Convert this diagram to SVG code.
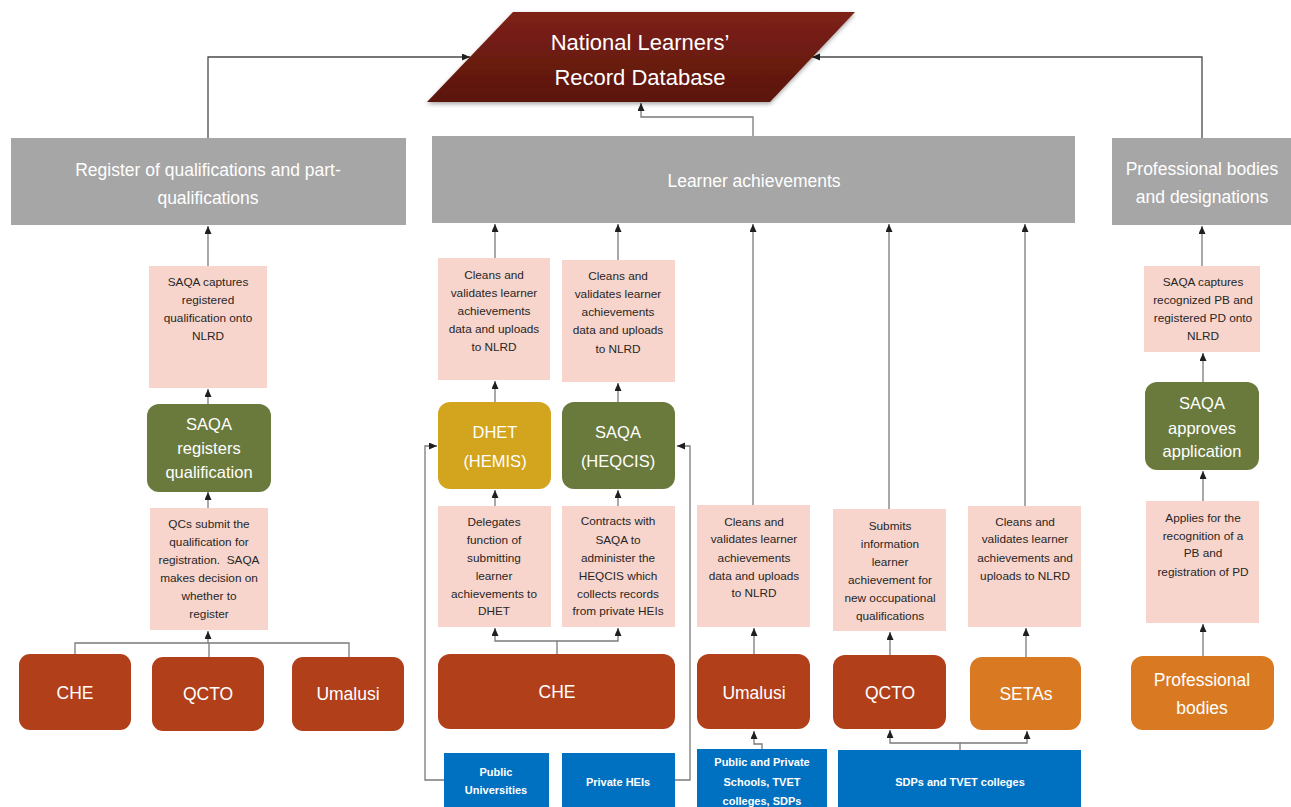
<svg xmlns="http://www.w3.org/2000/svg" width="1291" height="807" viewBox="0 0 1291 807">
<defs>
<marker id="arr" markerUnits="userSpaceOnUse" markerWidth="8" markerHeight="8" refX="8" refY="3.5" orient="auto">
<path d="M0,0 L8,3.5 L0,7 z" fill="#1f1f1f"/>
</marker>
<linearGradient id="dbg" x1="0" y1="0" x2="0" y2="1">
<stop offset="0" stop-color="#7e2115"/>
<stop offset="1" stop-color="#5a160e"/>
</linearGradient>
<filter id="sh" x="-10%" y="-10%" width="120%" height="140%">
<feDropShadow dx="0" dy="2" stdDeviation="2" flood-color="#000" flood-opacity="0.35"/>
</filter>
</defs>
<style>
.grey{fill:#a6a6a6}
.pink{fill:#f8d5cc}
.green{fill:#6a7a3c}
.red{fill:#b13f1a}
.gold{fill:#d3a41d}
.orange{fill:#d97a22}
.blue{fill:#0070c0}
text{font-family:"Liberation Sans",Arial,sans-serif;text-anchor:middle}
.gt{fill:#ffffff;font-size:17.5px}
.pt{fill:#262626;font-size:11.8px}
.bt{fill:#ffffff;font-size:16.5px}
.nt{fill:#ffffff;font-size:17.5px}
.blt{fill:#ffffff;font-size:11px;font-weight:bold}
.dbt{fill:#ffffff;font-size:22px}
.pre{white-space:pre}
.conn path{fill:none;stroke:#7a7a7a;stroke-width:1.3}
.conn path.dk{stroke:#4a4a4a}
.conn path.a{marker-end:url(#arr)}
</style>
<rect width="1291" height="807" fill="#ffffff"/>

<g class="conn" id="connectors">
<path class="a dk" d="M208,138 V57 H470"/>
<path class="a dk" d="M1202,138 V57 H812"/>
<path class="a" d="M753,136 V117 H641 V103"/>
<path class="a" d="M208,266 V226"/>
<path class="a" d="M495,258 V224"/>
<path class="a" d="M618,260 V224"/>
<path class="a" d="M753,505 V224"/>
<path class="a" d="M889,509 V224"/>
<path class="a" d="M1025,506 V224"/>
<path class="a" d="M1202,266 V226"/>
<path class="a" d="M208,404 V389"/>
<path class="a" d="M208,508 V492"/>
<path d="M75,654 V643 H349 V657"/>
<path d="M209,657 V643"/>
<path class="a" d="M208,643 V631"/>
<path class="a" d="M495,402 V381"/>
<path class="a" d="M618,402 V383"/>
<path class="a" d="M495,506 V490"/>
<path class="a" d="M618,506 V490"/>
<path class="a" d="M557,654 V641 H495 V628"/>
<path class="a" d="M557,641 H618 V628"/>
<path class="a" d="M444,780 H425 V446 H437"/>
<path class="a" d="M675,780 H690 V446 H677"/>
<path class="a" d="M754,654 V628"/>
<path class="a" d="M762,749 V744 H754 V731"/>
<path class="a" d="M890,655 V632"/>
<path class="a" d="M1026,657 V628"/>
<path class="a" d="M960,750 V743 H890 V730"/>
<path class="a" d="M960,743 H1027 V731"/>
<path class="a" d="M1203,382 V353"/>
<path class="a" d="M1203,501 V471"/>
<path class="a" d="M1203,656 V624"/>
</g>

<g id="nlrd">
<polygon points="513,12 855,12 770,102 427,102" fill="url(#dbg)" filter="url(#sh)"/>
<text class="dbt" x="640" y="50">National Learners’</text>
<text class="dbt" x="640" y="85">Record Database</text>
</g>

<g id="register">
<rect class="grey" x="11" y="138" width="395" height="87"/>
<text class="gt" x="208" y="176">Register of qualifications and part-</text>
<text class="gt" x="208" y="204">qualifications</text>
</g>
<g id="learner-achievements">
<rect class="grey" x="432" y="136" width="643" height="87"/>
<text class="gt" x="754" y="187">Learner achievements</text>
</g>
<g id="professional-designations">
<rect class="grey" x="1112" y="138" width="179" height="87"/>
<text class="gt" x="1202" y="175">Professional bodies</text>
<text class="gt" x="1202" y="203">and designations</text>
</g>

<g id="saqa-captures-qual">
<rect class="pink" x="149" y="266" width="118" height="122"/>
<text class="pt" x="208" y="286">SAQA captures</text>
<text class="pt" x="208" y="304">registered</text>
<text class="pt" x="208" y="322">qualification onto</text>
<text class="pt" x="208" y="340">NLRD</text>
</g>
<g id="saqa-registers">
<rect class="green" x="147" y="404" width="124" height="88" rx="12"/>
<text class="bt" x="209" y="430">SAQA</text>
<text class="bt" x="209" y="454">registers</text>
<text class="bt" x="209" y="478">qualification</text>
</g>
<g id="qcs-submit">
<rect class="pink" x="150" y="508" width="118" height="122"/>
<text class="pt" x="209" y="528">QCs submit the</text>
<text class="pt" x="209" y="546">qualification for</text>
<text class="pt pre" x="209" y="564">registration.  SAQA</text>
<text class="pt" x="209" y="582">makes decision on</text>
<text class="pt" x="209" y="600">whether to</text>
<text class="pt" x="209" y="618">register</text>
</g>
<g id="che-left">
<rect class="red" x="19" y="654" width="112" height="76" rx="11"/>
<text class="nt" x="75" y="699">CHE</text>
</g>
<g id="qcto-left">
<rect class="red" x="152" y="657" width="112" height="74" rx="11"/>
<text class="nt" x="208" y="700">QCTO</text>
</g>
<g id="umalusi-left">
<rect class="red" x="292" y="657" width="112" height="74" rx="11"/>
<text class="nt" x="348" y="700">Umalusi</text>
</g>

<g id="dhet-cleans">
<rect class="pink" x="438" y="258" width="112" height="122"/>
<text class="pt" x="494" y="279">Cleans and</text>
<text class="pt" x="494" y="297">validates learner</text>
<text class="pt" x="494" y="315">achievements</text>
<text class="pt" x="494" y="333">data and uploads</text>
<text class="pt" x="494" y="351">to NLRD</text>
</g>
<g id="saqa-cleans">
<rect class="pink" x="562" y="260" width="113" height="122"/>
<text class="pt" x="618" y="280">Cleans and</text>
<text class="pt" x="618" y="298">validates learner</text>
<text class="pt" x="618" y="316">achievements</text>
<text class="pt" x="618" y="334">data and uploads</text>
<text class="pt" x="618" y="353">to NLRD</text>
</g>
<g id="dhet-hemis">
<rect class="gold" x="438" y="402" width="113" height="87" rx="12"/>
<text class="bt" x="495" y="438">DHET</text>
<text class="bt" x="495" y="467">(HEMIS)</text>
</g>
<g id="saqa-heqcis">
<rect class="green" x="562" y="402" width="113" height="87" rx="12"/>
<text class="bt" x="618" y="438">SAQA</text>
<text class="bt" x="618" y="467">(HEQCIS)</text>
</g>
<g id="delegates">
<rect class="pink" x="438" y="506" width="113" height="121"/>
<text class="pt" x="494" y="526">Delegates</text>
<text class="pt" x="494" y="544">function of</text>
<text class="pt" x="494" y="562">submitting</text>
<text class="pt" x="494" y="580">learner</text>
<text class="pt" x="494" y="598">achievements to</text>
<text class="pt" x="494" y="615">DHET</text>
</g>
<g id="contracts">
<rect class="pink" x="562" y="506" width="113" height="121"/>
<text class="pt" x="618" y="525">Contracts with</text>
<text class="pt" x="618" y="544">SAQA to</text>
<text class="pt" x="618" y="562">administer the</text>
<text class="pt" x="618" y="580">HEQCIS which</text>
<text class="pt" x="618" y="598">collects records</text>
<text class="pt" x="618" y="615">from private HEIs</text>
</g>
<g id="che-mid">
<rect class="red" x="438" y="654" width="237" height="75" rx="12"/>
<text class="nt" x="557" y="698">CHE</text>
</g>
<g id="public-universities">
<rect class="blue" x="444" y="753" width="105" height="60"/>
<text class="blt" x="496" y="776">Public</text>
<text class="blt" x="496" y="794">Universities</text>
</g>
<g id="private-heis">
<rect class="blue" x="562" y="753" width="113" height="60"/>
<text class="blt" x="618" y="786">Private HEIs</text>
</g>

<g id="umalusi-cleans">
<rect class="pink" x="697" y="505" width="113" height="122"/>
<text class="pt" x="754" y="526">Cleans and</text>
<text class="pt" x="754" y="543">validates learner</text>
<text class="pt" x="754" y="562">achievements</text>
<text class="pt" x="754" y="580">data and uploads</text>
<text class="pt" x="754" y="597">to NLRD</text>
</g>
<g id="umalusi-mid">
<rect class="red" x="697" y="654" width="113" height="75" rx="12"/>
<text class="nt" x="754" y="699">Umalusi</text>
</g>
<g id="schools">
<rect class="blue" x="697" y="749" width="130" height="64"/>
<text class="blt" x="762" y="766">Public and Private</text>
<text class="blt" x="762" y="786">Schools, TVET</text>
<text class="blt" x="762" y="805">colleges, SDPs</text>
</g>

<g id="qcto-submits">
<rect class="pink" x="833" y="509" width="113" height="122"/>
<text class="pt" x="890" y="530">Submits</text>
<text class="pt" x="890" y="548">information</text>
<text class="pt" x="890" y="566">learner</text>
<text class="pt" x="890" y="584">achievement for</text>
<text class="pt" x="890" y="602">new occupational</text>
<text class="pt" x="890" y="620">qualifications</text>
</g>
<g id="qcto-mid">
<rect class="red" x="833" y="655" width="113" height="74" rx="12"/>
<text class="nt" x="890" y="699">QCTO</text>
</g>
<g id="setas-cleans">
<rect class="pink" x="968" y="506" width="113" height="121"/>
<text class="pt" x="1025" y="526">Cleans and</text>
<text class="pt" x="1025" y="543">validates learner</text>
<text class="pt" x="1025" y="562">achievements and</text>
<text class="pt" x="1025" y="580">uploads to NLRD</text>
</g>
<g id="setas">
<rect class="orange" x="970" y="657" width="111" height="73" rx="12"/>
<text class="nt" x="1026" y="700">SETAs</text>
</g>
<g id="sdps">
<rect class="blue" x="838" y="750" width="243" height="63"/>
<text class="blt" x="960" y="786">SDPs and TVET colleges</text>
</g>

<g id="saqa-captures-pb">
<rect class="pink" x="1144" y="266" width="116" height="86"/>
<text class="pt" x="1203" y="286">SAQA captures</text>
<text class="pt" x="1203" y="304">recognized PB and</text>
<text class="pt" x="1203" y="322">registered PD onto</text>
<text class="pt" x="1203" y="340">NLRD</text>
</g>
<g id="saqa-approves">
<rect class="green" x="1145" y="382" width="114" height="88" rx="12"/>
<text class="bt" x="1202" y="409">SAQA</text>
<text class="bt" x="1202" y="434">approves</text>
<text class="bt" x="1202" y="457">application</text>
</g>
<g id="applies">
<rect class="pink" x="1146" y="501" width="113" height="122"/>
<text class="pt" x="1203" y="522">Applies for the</text>
<text class="pt" x="1203" y="540">recognition of a</text>
<text class="pt" x="1203" y="557">PB and</text>
<text class="pt" x="1203" y="576">registration of PD</text>
</g>
<g id="professional-bodies">
<rect class="orange" x="1131" y="656" width="143" height="74" rx="12"/>
<text class="nt" x="1202" y="686">Professional</text>
<text class="nt" x="1202" y="714">bodies</text>
</g>
</svg>
